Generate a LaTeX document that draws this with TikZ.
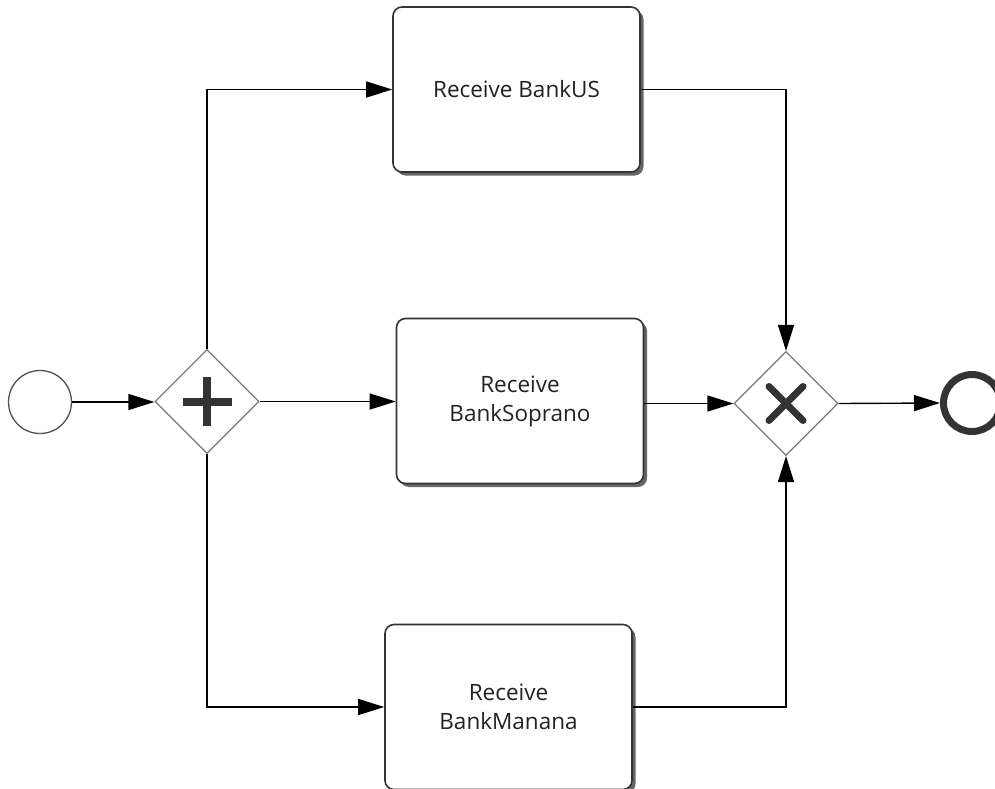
\documentclass[tikz,border=0pt]{standalone}
\usepackage{fontspec}
\setmainfont{Open Sans}
\usetikzlibrary{arrows.meta,shapes.geometric,shadows}
\definecolor{ink}{HTML}{333333}
\definecolor{txt}{HTML}{222222}
\definecolor{gwline}{HTML}{7A7A7A}
\tikzset{
  task/.style={draw=ink, line width=1.6pt, fill=white, rounded corners=9pt,
    minimum width=247pt, minimum height=165pt, inner sep=0pt,
    align=center, font=\fontsize{22.5}{29}\selectfont, text=txt,
    drop shadow={shadow xshift=3.5pt, shadow yshift=-3.5pt, fill=black!60, opacity=1}},
  gateway/.style={diamond, draw=gwline, line width=1.2pt, fill=white,
    minimum width=104pt, minimum height=104pt, inner sep=0pt},
  startev/.style={circle, draw=ink!85, line width=1.3pt, fill=white, minimum size=63pt, inner sep=0pt},
  endev/.style={circle, draw=ink, line width=7pt, fill=white, minimum size=57pt, inner sep=0pt},
  flow/.style={draw=black, line width=1.4pt, -{Triangle[length=26pt,width=16pt]}},
  gwmark/.style={draw=ink, line width=8pt}
}
\begin{document}
\begin{tikzpicture}[x=1pt,y=-1pt]
\useasboundingbox (0,0) rectangle (995,788);
\node[startev] (start) at (40,402) {};
\node[gateway] (pg) at (207,401.5) {};
\node[task] (t1) at (516.5,89.5) {Receive BankUS};
\node[task] (t2) at (520,401) {Receive\\BankSoprano};
\node[task] (t3) at (508.5,707) {Receive\\BankManana};
\node[gateway] (xg) at (786,403.5) {};
\node[endev] (end) at (972,403) {};
% gateway markers
\draw[gwmark, line cap=butt] ([xshift=-24.5pt]pg.center) -- ([xshift=24.5pt]pg.center);
\draw[gwmark, line cap=butt] ([yshift=-24.5pt]pg.center) -- ([yshift=24.5pt]pg.center);
\draw[gwmark, line width=7pt, line cap=round] ([xshift=-17pt,yshift=17pt]xg.center) -- ([xshift=17pt,yshift=-17pt]xg.center);
\draw[gwmark, line width=7pt, line cap=round] ([xshift=-17pt,yshift=-17pt]xg.center) -- ([xshift=17pt,yshift=17pt]xg.center);
% flows
\draw[flow] (start.east) -- (pg.west |- start.east);
\draw[flow] (pg.north) |- (t1.west);
\draw[flow] (pg.east) -- (t2.west |- pg.east);
\draw[flow] (pg.south) |- (t3.west);
\draw[flow] (t1.east) -| (xg.north);
\draw[flow] (t2.east |- xg.west) -- (xg.west);
\draw[flow] (t3.east) -| (xg.south);
\draw[flow] (xg.east) -- (end.west);
\end{tikzpicture}
\end{document}
